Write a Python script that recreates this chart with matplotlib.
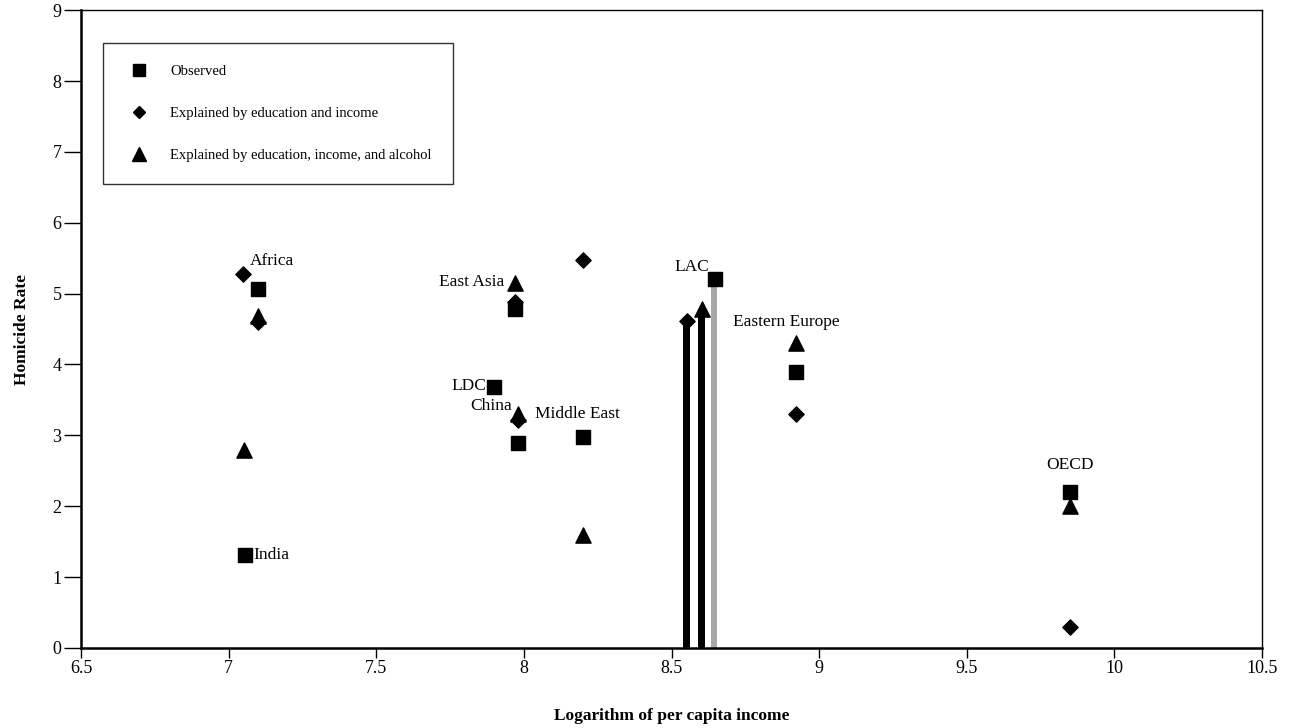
import matplotlib
matplotlib.use("Agg")
import matplotlib.pyplot as plt
from matplotlib.lines import Line2D

# ==============================
# DATA
# ==============================
obs_x = [7.10, 7.055, 7.97, 7.90, 7.98, 8.20, 8.646, 8.92, 9.85]
obs_y = [5.06, 1.31, 4.78, 3.68, 2.89, 2.98, 5.20, 3.90, 2.20]

edu_x = [7.048, 7.10, 7.97, 7.98, 8.20, 8.551, 8.92, 9.85]
edu_y = [5.28, 4.60, 4.88, 3.22, 5.47, 4.62, 3.30, 0.30]

alc_x = [7.10, 7.052, 7.97, 7.98, 8.20, 8.602, 8.92, 9.85]
alc_y = [4.68, 2.79, 5.15, 3.30, 1.60, 4.78, 4.30, 2.00]

# LAC bars (x, height, colour)
lac_x = [8.551, 8.602, 8.644]
lac_h = [4.60, 4.72, 5.15]
lac_c = ["black", "black", "#a8a8a8"]
lac_w = [0.022, 0.022, 0.018]

labels = ["Africa", "India", "East Asia", "LDC", "China", "Middle East",
          "LAC", "Eastern Europe", "OECD"]
label_x = [7.072, 7.082, 7.935, 7.874, 7.959, 8.037, 8.628, 8.707, 9.85]
label_y = [5.46, 1.31, 5.17, 3.70, 3.42, 3.30, 5.38, 4.60, 2.58]
label_ha = ["left", "left", "right", "right", "right", "left", "right", "left", "center"]

x_ticks = [6.5, 7, 7.5, 8, 8.5, 9, 9.5, 10, 10.5]
y_ticks = list(range(0, 10))

FONT = ["Liberation Serif", "DejaVu Serif"]


def main():
    plt.rcParams["font.family"] = FONT

    fig = plt.figure(figsize=(12.9, 7.28), dpi=100)
    ax = fig.add_axes([0.0628, 0.11, 0.9155, 0.876])

    ax.bar(lac_x, lac_h, width=lac_w, color=lac_c, zorder=2)

    ax.scatter(obs_x, obs_y, marker="s", s=110, color="black", zorder=3)
    ax.scatter(edu_x, edu_y, marker="D", s=60, color="black", zorder=3)
    ax.scatter(alc_x, alc_y, marker="^", s=120, color="black", zorder=3)

    for t, x, y, ha in zip(labels, label_x, label_y, label_ha):
        ax.text(x, y, t, ha=ha, va="center", fontsize=12.5)

    ax.set_xlim(6.5, 10.5)
    ax.set_ylim(0, 9)
    ax.set_xticks(x_ticks)
    ax.set_xticklabels([f"{v:g}" for v in x_ticks])
    ax.set_yticks(y_ticks)
    ax.tick_params(axis="x", direction="out", length=7, width=1, labelsize=13, pad=2)
    ax.tick_params(axis="y", direction="out", length=12, width=1, labelsize=13, pad=2)

    for s in ["left", "bottom"]:
        ax.spines[s].set_linewidth(1.8)
    for s in ["top", "right"]:
        ax.spines[s].set_linewidth(1.0)

    ax.set_xlabel("Logarithm of per capita income", fontsize=12.5,
                  fontweight="bold", labelpad=22)
    ax.set_ylabel("Homicide Rate", fontsize=12.5, fontweight="bold", labelpad=16)

    handles = [
        Line2D([], [], marker="s", color="black", linestyle="none", markersize=9),
        Line2D([], [], marker="D", color="black", linestyle="none", markersize=6.5),
        Line2D([], [], marker="^", color="black", linestyle="none", markersize=10),
    ]
    leg = ax.legend(handles, ["Observed", "Explained by education and income",
                              "Explained by education, income, and alcohol"],
                    loc="upper left", bbox_to_anchor=(0.0186, 0.948),
                    fontsize=10.5, frameon=True, fancybox=False,
                    edgecolor="black", labelspacing=1.95, borderpad=1.5,
                    handletextpad=1.1, borderaxespad=0)
    leg.get_frame().set_linewidth(1.0)

    fig.savefig("out.png", dpi=100)
    plt.close(fig)


if __name__ == "__main__":
    main()
